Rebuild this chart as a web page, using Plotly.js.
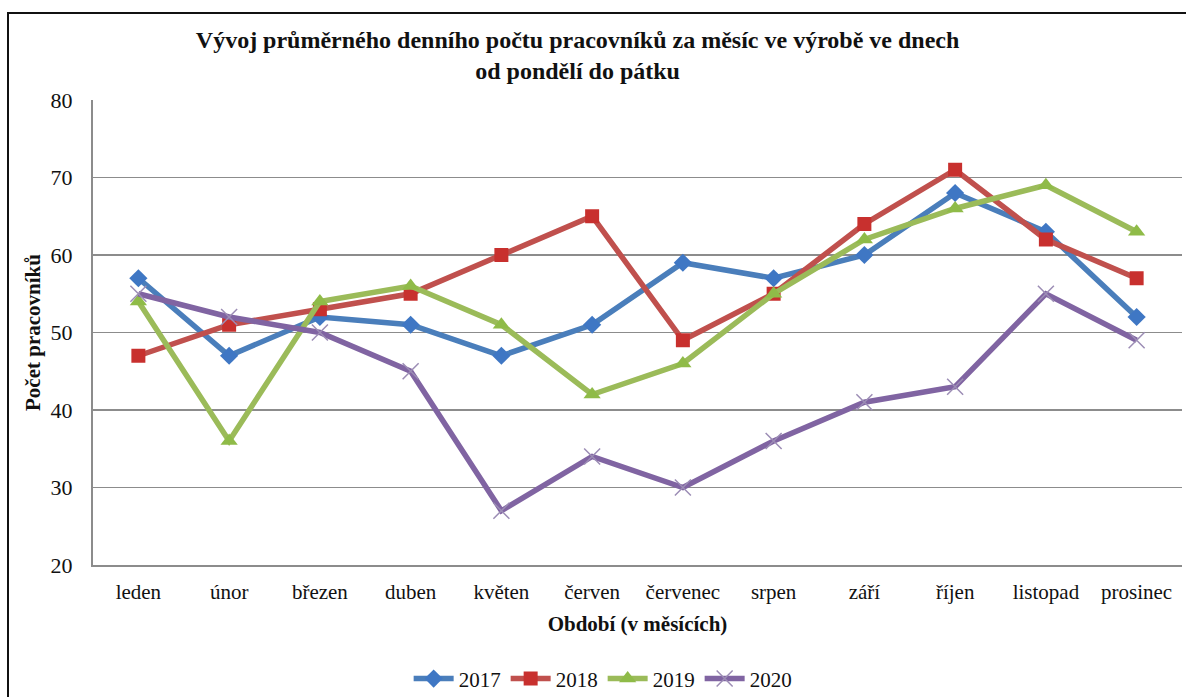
<!DOCTYPE html>
<html>
<head>
<meta charset="utf-8">
<script src="https://cdn.plot.ly/plotly-3.0.1.min.js"></script>
<style>
  html, body { margin: 0; padding: 0; background: #fff; }
  #wrap { position: relative; width: 1186px; height: 697px; overflow: hidden; }
  #frame { position: absolute; left: 7px; top: 12px; width: 1300px; height: 800px;
           border-left: 2px solid #111; border-top: 2px solid #111; pointer-events: none; }
  #chart { position: absolute; left: 0; top: 0; width: 1186px; height: 697px; }
</style>
</head>
<body>
<div id="wrap">
  <div id="chart"></div>
  <div id="frame"></div>
</div>
<script>
const months = ["leden", "únor", "březen", "duben", "květen", "červen", "červenec", "srpen", "září", "říjen", "listopad", "prosinec"];
const years = ["2017", "2018", "2019", "2020"];
const v2017 = [57, 47, 52, 51, 47, 51, 59, 57, 60, 68, 63, 52];
const v2018 = [47, 51, 53, 55, 60, 65, 49, 55, 64, 71, 62, 57];
const v2019 = [54, 36, 54, 56, 51, 42, 46, 55, 62, 66, 69, 63];
const v2020 = [55, 52, 50, 45, 27, 34, 30, 36, 41, 43, 55, 49];
const yTicks = [20, 30, 40, 50, 60, 70, 80];

const serif = "'Liberation Serif', 'Times New Roman', serif";

function trace(name, vals, color, marker) {
  return {
    type: "scatter", mode: "lines+markers", name: name,
    x: months, y: vals,
    line: { color: color, width: 5.5 },
    marker: marker
  };
}

const data = [
  trace(years[0], v2017, "#4A7EBB", { symbol: "diamond", size: 14, color: "#3F77C4" }),
  trace(years[1], v2018, "#C0504D", { symbol: "square", size: 14, color: "#C8302E" }),
  trace(years[2], v2019, "#9BBB59", { symbol: "triangle-up", size: 15, color: "#8FBB48" }),
  trace(years[3], v2020, "#8064A2", { symbol: "x-thin", size: 16, color: "#8064A2", line: { width: 1.5, color: "#9C8DB5" } })
];

const layout = {
  width: 1186, height: 697,
  margin: { l: 93, r: 4, t: 100, b: 132, autoexpand: false },
  paper_bgcolor: "#fff", plot_bgcolor: "#fff",
  font: { family: serif, color: "#111", size: 20 },
  title: {
    text: "<b>Vývoj průměrného denního počtu pracovníků za měsíc ve výrobě ve dnech<br>od pondělí do pátku</b>",
    font: { family: serif, size: 24, color: "#111" },
    x: 0.487, xanchor: "center", xref: "container",
    y: 1 - 48 / 697, yanchor: "middle", yref: "container"
  },
  xaxis: {
    type: "category",
    showgrid: false,
    showline: true, linecolor: "#8c8c8c", linewidth: 2,
    ticks: "", ticklabelstandoff: 7,
    tickfont: { family: serif, size: 21, color: "#111" },
    title: { text: "<b>Období (v měsících)</b>", font: { family: serif, size: 21, color: "#111" }, standoff: 13 },
    range: [-0.5, 11.5], fixedrange: true
  },
  yaxis: {
    range: [20, 80],
    tickvals: yTicks,
    showgrid: true, gridcolor: "#8c8c8c", gridwidth: 1.5,
    showline: true, linecolor: "#8c8c8c", linewidth: 2,
    zeroline: false,
    ticks: "", ticklabelstandoff: 14,
    tickfont: { family: serif, size: 22, color: "#111" },
    title: { text: "<b>Počet pracovníků</b>", font: { family: serif, size: 21, color: "#111" }, standoff: 4 },
    fixedrange: true
  },
  showlegend: true,
  legend: {
    orientation: "h",
    x: 0.468, xanchor: "center",
    y: -0.245, yanchor: "middle",
    font: { family: serif, size: 21, color: "#111" },
    itemwidth: 40,
    traceorder: "normal"
  }
};

Plotly.newPlot("chart", data, layout, { displayModeBar: false, staticPlot: true });
</script>
</body>
</html>
